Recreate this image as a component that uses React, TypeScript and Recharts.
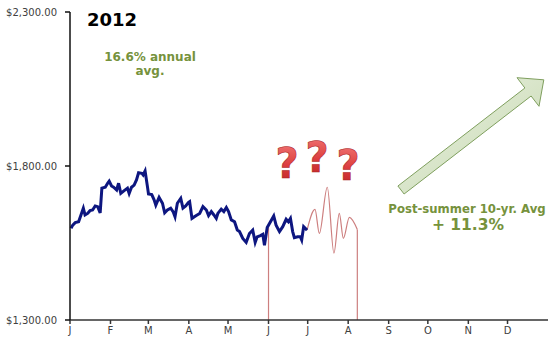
import { ComposedChart, Line, XAxis, YAxis } from "recharts";

// 2012 daily closes (day of year, Jan 1 = 0)
const goldDays = [
  0.8, 2.1, 4, 6.6, 8.4, 10.2, 11.5, 13.5, 15.3, 17.3,
  19.3, 21.2, 23.1, 24.4, 27, 28.8, 30, 31.8, 33.4, 35.7,
  37.2, 38.9, 41.5, 44, 45.3, 47.1, 49.1, 50.9, 52.5, 55,
  56, 57.5, 59.3, 60.1, 62.6, 64.4, 65.7, 68.2, 70.8, 72.5,
  74.6, 77.1, 78.9, 80.4, 82.2, 84.8, 86.5, 88.6, 90.6, 91.6,
  93.4, 96.7, 99.3, 101.8, 104.4, 106.1, 108.2, 110.2, 112, 113.2,
  115.8, 117.8, 119.7, 121.4, 123.5, 126, 128.1, 129.8, 132.3, 134.9,
  137.4, 139.9, 141.8, 143.3, 145.8, 147.6, 148.9, 151, 153.5, 156,
  157.8, 160.4, 162.9, 165.5, 167.2, 168.8, 170.5, 171.8, 174.3, 176.4,
  177.4, 178.9, 181.5,
];
const goldPrices = [
  1598, 1608, 1616, 1619, 1641, 1663, 1641, 1646, 1655, 1657,
  1670, 1668, 1648, 1728, 1731, 1744, 1751, 1735, 1731, 1722,
  1744, 1711, 1720, 1728, 1711, 1731, 1738, 1755, 1778, 1776,
  1771, 1784, 1733, 1709, 1707, 1690, 1673, 1698, 1679, 1648,
  1657, 1663, 1652, 1635, 1679, 1695, 1663, 1670, 1681, 1684,
  1630, 1639, 1646, 1668, 1657, 1639, 1652, 1641, 1630, 1646,
  1660, 1652, 1665, 1652, 1625, 1619, 1592, 1587, 1565, 1552,
  1581, 1592, 1552, 1570, 1574, 1578, 1543, 1600, 1619, 1638,
  1608, 1587, 1603, 1627, 1619, 1630, 1587, 1567, 1570, 1570,
  1560, 1603, 1592,
];

// the "guess" squiggle for the summer
const guessDays = [181.5, 187.6, 190.9, 197, 202.1, 206.2, 209.3, 213.9, 220];
const guessPrices = [1592, 1659, 1581, 1731, 1517, 1646, 1565, 1633, 1594];
const juneDropDays = [152, 152];
const juneDropPrices = [1300, 1600];
const augDropDays = [220, 220];
const augDropPrices = [1594, 1300];

const monthStarts = [0, 31, 60, 91, 121, 152, 182, 213, 244, 274, 305, 335];
const monthLabels = ["J", "F", "M", "A", "M", "J", "J", "A", "S", "O", "N", "D"];
const priceTicks = [1300, 1800, 2300];

const zip = (days: number[], prices: number[]) =>
  days.map((day, i) => ({ day, price: prices[i] }));

const gold = zip(goldDays, goldPrices);
const guess = zip(guessDays, guessPrices);
const juneDrop = zip(juneDropDays, juneDropPrices);
const augDrop = zip(augDropDays, augDropPrices);

const font = "'DejaVu Sans', Verdana, sans-serif";
const green = "#76923c";
const pink = "#cd7f7f";

const money = (v: number) =>
  "$" + v.toLocaleString("en-US", { minimumFractionDigits: 2, maximumFractionDigits: 2 });

export default function App() {
  return (
    <div style={{ position: "absolute", left: 0, top: 0, width: 553, height: 342, background: "#fff" }}>
      <ComposedChart width={553} height={342} margin={{ top: 12, right: 5, bottom: 2, left: 0 }}>
        <XAxis
          type="number"
          dataKey="day"
          domain={[0, 366]}
          ticks={monthStarts}
          tickFormatter={(v: number) => monthLabels[monthStarts.indexOf(v)]}
          height={20}
          tickSize={4}
          tickMargin={3}
          stroke="#333"
          strokeWidth={1.5}
          tick={{ fontSize: 10, fill: "#404040", fontFamily: font }}
        />
        <YAxis
          type="number"
          domain={[1300, 2300]}
          ticks={priceTicks}
          tickFormatter={money}
          width={70}
          tickSize={5}
          tickMargin={8}
          stroke="#111"
          strokeWidth={1.5}
          tick={{ fontSize: 10, fill: "#404040", fontFamily: font }}
        />
        <Line data={juneDrop} dataKey="price" type="linear" stroke={pink} strokeWidth={1.2} dot={false} isAnimationActive={false} />
        <Line data={guess} dataKey="price" type="monotone" stroke={pink} strokeWidth={1.2} dot={false} isAnimationActive={false} />
        <Line data={augDrop} dataKey="price" type="linear" stroke={pink} strokeWidth={1.2} dot={false} isAnimationActive={false} />
        <Line data={gold} dataKey="price" type="linear" stroke="#0d1680" strokeWidth={3} dot={false} isAnimationActive={false} />
      </ComposedChart>

      <svg
        width={553}
        height={342}
        style={{ position: "absolute", left: 0, top: 0, pointerEvents: "none" }}
      >
        <defs>
          <linearGradient id="qGrad" x1="0" y1="0" x2="0" y2="1">
            <stop offset="0%" stopColor="#f27a7a" />
            <stop offset="55%" stopColor="#dc3c3c" />
            <stop offset="100%" stopColor="#b82424" />
          </linearGradient>
          <linearGradient id="arrowGrad" x1="0" y1="0" x2="1" y2="1">
            <stop offset="0%" stopColor="#eef4e6" />
            <stop offset="100%" stopColor="#c3d6ad" />
          </linearGradient>
        </defs>

        <text x={87} y={26} fontFamily={font} fontWeight="bold" fontSize={18} fill="#000">
          2012
        </text>
        <text x={150} y={61} textAnchor="middle" fontFamily={font} fontWeight="bold" fontSize={12} fill={green}>
          16.6% annual
        </text>
        <text x={150} y={75} textAnchor="middle" fontFamily={font} fontWeight="bold" fontSize={12} fill={green}>
          avg.
        </text>

        {[
          { x: 287, y: 178 },
          { x: 317, y: 172 },
          { x: 348, y: 180 },
        ].map((q, i) => (
          <text
            key={i}
            x={0}
            y={0}
            transform={`translate(${q.x} ${q.y}) scale(0.95 1)`}
            textAnchor="middle"
            fontFamily={font}
            fontWeight="bold"
            fontSize={42}
            fill="url(#qGrad)"
            stroke="#a82020"
            strokeWidth={0.6}
          >
            ?
          </text>
        ))}

        <polygon
          points="397.9,186 524.9,88 517,77.7 543.8,79.8 539,106.3 531.1,96 404.1,194"
          fill="url(#arrowGrad)"
          stroke="#7f9f5e"
          strokeWidth={1}
          strokeLinejoin="round"
        />

        <text x={467} y={213} textAnchor="middle" fontFamily={font} fontWeight="bold" fontSize={11.7} fill={green}>
          Post-summer 10-yr. Avg
        </text>
        <text x={468} y={230} textAnchor="middle" fontFamily={font} fontWeight="bold" fontSize={15.5} fill={green}>
          + 11.3%
        </text>
      </svg>
    </div>
  );
}
